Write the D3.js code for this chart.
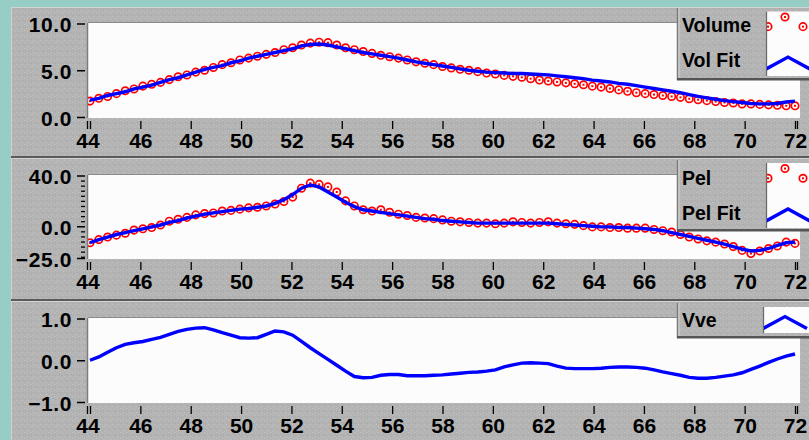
<!DOCTYPE html>
<html><head><meta charset="utf-8">
<script src="https://cdn.jsdelivr.net/npm/d3@7"></script>
<style>
html,body{margin:0;padding:0;background:#96cec6;}
svg{display:block;}
text{font-family:"Liberation Sans",Arial,sans-serif;font-weight:bold;fill:#000;}
</style></head>
<body>
<svg id="c" width="809" height="440"></svg>
<script>
// ---------- DATA ----------
const time = [44.00,44.35,44.70,45.05,45.40,45.75,46.10,46.45,46.80,47.15,47.50,47.85,48.20,48.55,48.90,49.25,49.60,49.95,50.30,50.65,
51.00,51.35,51.70,52.05,52.40,52.75,53.10,53.45,53.80,54.15,54.50,54.85,55.20,55.55,55.90,56.25,56.60,56.95,57.30,57.65,
58.00,58.35,58.70,59.05,59.40,59.75,60.10,60.45,60.80,61.15,61.50,61.85,62.20,62.55,62.90,63.25,63.60,63.95,64.30,64.65,
65.00,65.35,65.70,66.05,66.40,66.75,67.10,67.45,67.80,68.15,68.50,68.85,69.20,69.55,69.90,70.25,70.60,70.95,71.30,71.65,72.00];

const volume = [1.7,2.0,2.2,2.5,2.8,3.0,3.3,3.5,3.7,4.0,4.3,4.5,4.8,5.0,5.3,5.6,5.8,6.1,6.3,6.5,
6.7,6.9,7.2,7.4,7.7,7.9,8.0,7.95,7.7,7.4,7.2,7.0,6.8,6.6,6.45,6.3,6.1,5.9,5.75,5.6,
5.4,5.25,5.1,5.0,4.85,4.7,4.6,4.45,4.35,4.25,4.1,3.95,3.85,3.75,3.65,3.55,3.45,3.3,3.2,3.05,
2.9,2.75,2.6,2.5,2.4,2.3,2.2,2.1,1.95,1.85,1.75,1.65,1.55,1.5,1.4,1.4,1.35,1.3,1.25,1.2,1.2];

const volFit = [1.8,2.0,2.3,2.5,2.7,3.0,3.2,3.4,3.7,4.0,4.2,4.5,4.8,5.1,5.3,5.5,5.8,6.0,6.3,6.5,
6.7,6.9,7.1,7.3,7.6,7.75,7.8,7.7,7.5,7.3,7.1,6.9,6.75,6.6,6.45,6.3,6.1,5.9,5.75,5.6,
5.45,5.3,5.15,5.0,4.9,4.8,4.75,4.7,4.65,4.65,4.6,4.55,4.5,4.4,4.3,4.2,4.1,3.95,3.85,3.75,
3.6,3.5,3.35,3.2,3.05,2.9,2.75,2.6,2.4,2.2,2.05,1.9,1.75,1.65,1.55,1.45,1.4,1.4,1.45,1.6,1.7];

const pel = [-13,-10.5,-8.5,-7,-5.5,-3,-2,-1,1,4,5.5,7,9,10,10.5,12,12.5,13.5,14.5,15,
16,17.5,19.5,23,30,34,33,31,27,20,16,13,12,13,11,9.5,8.5,7,6.5,6,
5,4,3.5,3,2.5,2.5,2,2.5,3.5,3,2.5,3,3.5,2.5,2,1.5,0.5,-0.5,-0.5,-1,
-1,-1.5,-1.5,-1.5,-2.5,-3.5,-4.5,-6.5,-8.5,-10,-11.5,-12.5,-14,-16,-19,-21.5,-19.5,-17.5,-15.5,-12.5,-13.5];

const pelFit = [-13,-10.5,-8.5,-6.5,-5,-3.5,-2,-0.5,1,3,4.5,6.5,8,9.5,10.5,11.5,12.5,13.5,14,15,
16,18,21,25,30,32.5,31,27,23,19,15.5,13,12,11,10,9,8,7,6,5.5,
4.5,4,3.5,3,2.5,2.5,2.5,2.5,2.5,2.5,2.5,2.5,2.5,2,1.5,1,0.5,0,-0.5,-0.5,
-1,-1,-1.5,-2,-2.5,-3.5,-5,-6.5,-8,-9.5,-11,-12.5,-14,-16,-18,-19.5,-19,-17.5,-15,-13,-12.5];

const vve = [0.0,0.08,0.19,0.3,0.38,0.42,0.45,0.5,0.55,0.62,0.69,0.74,0.77,0.78,0.73,0.66,0.6,0.54,0.53,0.54,
0.62,0.7,0.68,0.6,0.45,0.3,0.16,0.02,-0.12,-0.26,-0.39,-0.42,-0.41,-0.36,-0.34,-0.34,-0.37,-0.37,-0.37,-0.36,
-0.35,-0.33,-0.31,-0.29,-0.28,-0.26,-0.23,-0.16,-0.11,-0.07,-0.06,-0.07,-0.08,-0.14,-0.19,-0.2,-0.2,-0.2,-0.19,-0.17,
-0.16,-0.16,-0.17,-0.19,-0.23,-0.28,-0.32,-0.36,-0.41,-0.43,-0.43,-0.41,-0.38,-0.35,-0.3,-0.22,-0.14,-0.05,0.03,0.1,0.15];

const xTicks = [44,46,48,50,52,54,56,58,60,62,64,66,68,70,72];
const volTicks = [0,5,10];
const pelTicks = [-25,0,40];
const pelMinorTicks = [-24,-20,-16,-12,-8,-4,4,8,12,16,20,24,28,32,36];
const vveTicks = [-1,0,1];
const legend1 = ["Volume","Vol Fit"];
const legend2 = ["Pel","Pel Fit"];
const legend3 = ["Vve"];

// ---------- DRAW ----------
const svg = d3.select("#c");
const defs = svg.append("defs");
const pat = defs.append("pattern").attr("id","tex").attr("width",6).attr("height",6).attr("patternUnits","userSpaceOnUse");
pat.append("rect").attr("width",6).attr("height",6).attr("fill","#b3b3b3");
[[0,0,"#c4c4c4"],[3,1,"#c0c0c0"],[1,3,"#a9a9a9"],[4,4,"#c4c4c4"],[2,5,"#bdbdbd"],[5,2,"#aaaaaa"]].forEach(([x,y,c])=>
  pat.append("rect").attr("x",x).attr("y",y).attr("width",1).attr("height",1).attr("fill",c));

svg.append("rect").attr("width",809).attr("height",440).attr("fill","#96cec6");

const X0 = 88, X1 = 800;
const x = d3.scaleLinear().domain([44,72]).range([90,795]);

const panels = [
  {y0:7, y1:156, top:23, bottom:118, dom:[0,10], ticks:volTicks, fmt:d3.format(".1f"),
   series:[{vals:volume,type:"circle"},{vals:volFit,type:"line"}],
   leg:{x:677,y:8,h:72,sw:{x:766,y:11.5,w:43,h:64.5},labels:legend1,ly:[31.5,67],types:["circle","line"]}},
  {y0:158, y1:299, top:175, bottom:259, dom:[-25,40], ticks:pelTicks, minor:pelMinorTicks, fmt:d3.format(".1f"),
   series:[{vals:pel,type:"circle"},{vals:pelFit,type:"line"}],
   leg:{x:677,y:160,h:71,sw:{x:766,y:163,w:43,h:65},labels:legend2,ly:[185,220],types:["circle","line"]}},
  {y0:301, y1:440, top:318, bottom:403, dom:[-1,1], ticks:vveTicks, fmt:d3.format(".1f"),
   series:[{vals:vve,type:"line"}],
   leg:{x:677,y:303,h:35,sw:{x:763,y:307,w:46,h:26},labels:legend3,ly:[326.5],types:["line"]}}
];

function drawCircle(g, cx, cy){
  g.append("circle").attr("cx",cx).attr("cy",cy).attr("r",3.7)
    .attr("fill","none").attr("stroke","#ff0000").attr("stroke-width",1.7);
  g.append("rect").attr("x",cx-1).attr("y",cy-1).attr("width",2).attr("height",2).attr("fill","#ff0000");
}

panels.forEach((p,i)=>{
  // panel background
  svg.append("rect").attr("x",11).attr("y",p.y0).attr("width",798).attr("height",p.y1-p.y0).attr("fill","url(#tex)");
  svg.append("line").attr("x1",11).attr("x2",809).attr("y1",p.y0+0.5).attr("y2",p.y0+0.5).attr("stroke","#d4d4d4");
  svg.append("line").attr("x1",11.5).attr("x2",11.5).attr("y1",p.y0).attr("y2",p.y1).attr("stroke","#cfcfcf");
  if(i<2){
    svg.append("rect").attr("x",11).attr("y",p.y1).attr("width",798).attr("height",2).attr("fill","#5a5a5a");
  }
  const y = d3.scaleLinear().domain(p.dom).range([p.bottom-1, p.top+0.5]);
  // plot area
  svg.append("rect").attr("x",X0).attr("y",p.top).attr("width",X1-X0).attr("height",p.bottom-p.top).attr("fill","#fcfcfc");
  svg.append("line").attr("x1",X0-0.5).attr("x2",X0-0.5).attr("y1",p.top).attr("y2",p.bottom).attr("stroke","#7c7c7c").attr("stroke-width",1.5);
  svg.append("line").attr("x1",X0).attr("x2",X1).attr("y1",p.top-0.5).attr("y2",p.top-0.5).attr("stroke","#8a8a8a");
  const clipId = "clip"+i;
  defs.append("clipPath").attr("id",clipId).append("rect").attr("x",X0).attr("y",p.top).attr("width",X1-X0).attr("height",p.bottom-p.top);
  const g = svg.append("g").attr("clip-path",`url(#${clipId})`);
  p.series.forEach(s=>{
    if(s.type==="circle"){
      s.vals.forEach((v,k)=>drawCircle(g, x(time[k]), y(v)));
    }
  });
  p.series.forEach(s=>{
    if(s.type==="line"){
      g.append("path").datum(s.vals)
        .attr("d", d3.line().x((d,k)=>x(time[k])).y(d=>y(d)))
        .attr("fill","none").attr("stroke","#0000ff").attr("stroke-width",3.4).attr("stroke-linejoin","miter");
    }
  });
  // y axis
  const ya = svg.append("g").attr("transform",`translate(85,0)`)
    .call(d3.axisLeft(y).tickValues(p.ticks).tickSize(8).tickPadding(5).tickFormat(p.fmt));
  ya.select(".domain").remove();
  ya.selectAll("line").attr("stroke","#000").attr("stroke-width",1.5);
  ya.selectAll("text").attr("font-size",21).attr("dy","0.39em").attr("letter-spacing","0.6px")
    .style("font-family","'Liberation Sans',Arial,sans-serif").style("font-weight","bold");
  if(p.minor){
    const ym = svg.append("g").attr("transform",`translate(85,0)`)
      .call(d3.axisLeft(y).tickValues(p.minor).tickSize(4).tickFormat(""));
    ym.select(".domain").remove();
    ym.selectAll("line").attr("stroke","#000").attr("stroke-width",1.3);
  }
  // x axis
  const xa = svg.append("g").attr("transform",`translate(0,${p.bottom+3})`)
    .call(d3.axisBottom(x).tickValues(xTicks).tickSize(8).tickPadding(4).tickFormat(d3.format("d")));
  xa.select(".domain").remove();
  xa.selectAll("line").attr("stroke","#000").attr("stroke-width",1.3);
  xa.selectAll("text").attr("font-size",21)
    .style("font-family","'Liberation Sans',Arial,sans-serif").style("font-weight","bold");
  xa.selectAll(".tick").filter(d=>d===44).select("text").attr("x",-2.5);
  // double-tick marks at the axis ends
  [xTicks[0], xTicks[xTicks.length-1]].forEach(v=>{
    xa.append("line").attr("x1",x(v)+(v===44?-2.5:2.5)).attr("x2",x(v)+(v===44?-2.5:2.5))
      .attr("y1",0).attr("y2",8).attr("stroke","#000").attr("stroke-width",1.3);
  });
  // legend
  const L = p.leg;
  svg.append("rect").attr("x",L.x).attr("y",L.y).attr("width",809-L.x).attr("height",L.h).attr("fill","url(#tex)");
  svg.append("line").attr("x1",L.x+0.5).attr("x2",L.x+0.5).attr("y1",L.y).attr("y2",L.y+L.h).attr("stroke","#7a7a7a").attr("stroke-width",1.5);
  svg.append("line").attr("x1",L.x+2).attr("x2",L.x+2).attr("y1",L.y).attr("y2",L.y+L.h-2).attr("stroke","#d8d8d8");
  svg.append("rect").attr("x",L.x).attr("y",L.y+L.h-2).attr("width",809-L.x).attr("height",2.5).attr("fill","#555");
  svg.append("rect").attr("x",L.sw.x).attr("y",L.sw.y).attr("width",809-L.sw.x).attr("height",L.sw.h).attr("fill","#fcfcfc");
  svg.append("line").attr("x1",L.sw.x+0.5).attr("x2",L.sw.x+0.5).attr("y1",L.sw.y).attr("y2",L.sw.y+L.sw.h).attr("stroke","#6a6a6a").attr("stroke-width",1.3);
  const lc = "lclip"+i;
  defs.append("clipPath").attr("id",lc).append("rect").attr("x",L.sw.x+1).attr("y",L.sw.y).attr("width",809-L.sw.x).attr("height",L.sw.h);
  const lg = svg.append("g").attr("clip-path",`url(#${lc})`);
  L.labels.forEach((t,k)=>{
    svg.append("text").attr("x",682).attr("y",L.ly[k]).attr("font-size",19.5).text(t);
    const rowTop = L.sw.y + (L.sw.h/L.labels.length)*k;
    const rowH = L.sw.h/L.labels.length;
    if(L.types[k]==="circle"){
      drawCircle(lg, L.sw.x+2, rowTop+rowH*0.47);
      drawCircle(lg, L.sw.x+19, rowTop+rowH*0.17);
      drawCircle(lg, L.sw.x+37, rowTop+rowH*0.47);
    } else {
      const cy = rowTop + rowH*0.6;
      lg.append("path").attr("d",`M${L.sw.x},${cy+6} L${L.sw.x+22},${cy-6} L${L.sw.x+44},${cy+6}`)
        .attr("fill","none").attr("stroke","#0000ff").attr("stroke-width",3.4);
    }
  });
});
</script>
</body></html>
